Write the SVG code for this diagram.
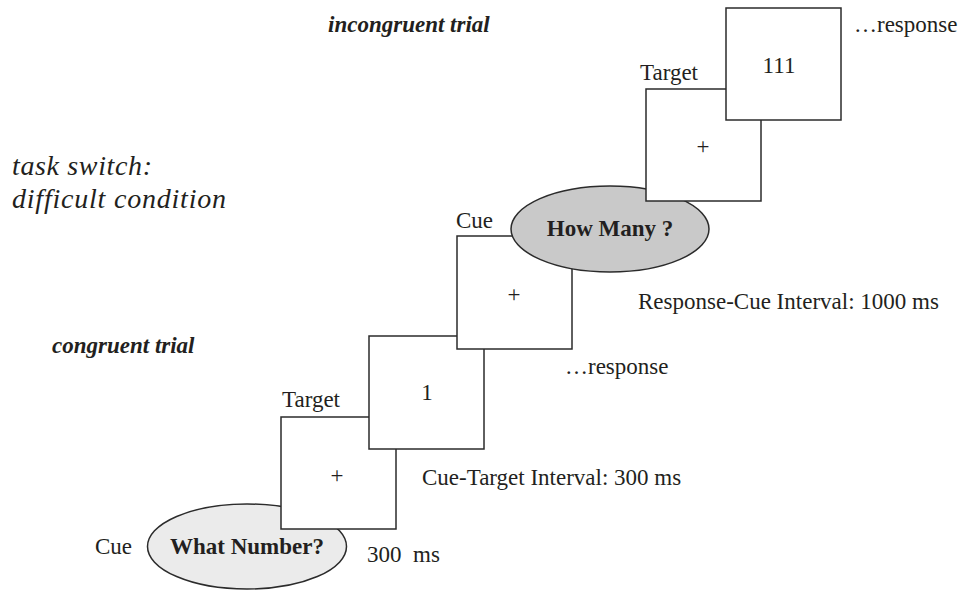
<svg xmlns="http://www.w3.org/2000/svg" width="965" height="591" viewBox="0 0 965 591">
<style>
.box{fill:#ffffff;stroke:#2b2b2b;stroke-width:1.5}
.ell{stroke:#2b2b2b;stroke-width:1.5}
.t{font-family:"Liberation Serif","Times New Roman",serif;font-size:23px;fill:#231f20}
.b{font-weight:bold}
.bi{font-weight:bold;font-style:italic}
.ti{font-family:"Liberation Serif","Times New Roman",serif;font-style:italic;font-size:28px;fill:#231f20}
.c{text-anchor:middle}
</style>
<rect width="965" height="591" fill="#ffffff"/>
<g id="headings">
<text class="t bi" x="328" y="32">incongruent trial</text>
<text class="t bi" x="52" y="353">congruent trial</text>
<text class="ti" x="12" y="175" textLength="140" lengthAdjust="spacing">task switch:</text>
<text class="ti" x="12" y="208" textLength="214" lengthAdjust="spacing">difficult condition</text>
</g>
<g id="cue1">
<ellipse class="ell" cx="247" cy="546.5" rx="99.5" ry="42.5" fill="#ebebeb"/>
<text class="t" x="95" y="554">Cue</text>
<text class="t b c" x="247" y="554">What Number?</text>
</g>
<g id="target1">
<rect class="box" x="281" y="417" width="115" height="112"/>
<text class="t" x="282" y="407">Target</text>
<text class="t c" x="337" y="483">+</text>
</g>
<g id="stim1">
<rect class="box" x="369" y="336" width="115" height="113"/>
<text class="t c" x="427" y="400">1</text>
</g>
<g id="cuebox2">
<rect class="box" x="457" y="236" width="115" height="113"/>
<text class="t" x="456" y="228">Cue</text>
<text class="t c" x="514" y="301.5">+</text>
</g>
<g id="cue2">
<ellipse class="ell" cx="610" cy="229" rx="99" ry="43" fill="#c9c9c9"/>
<text class="t b c" x="610" y="236">How Many ?</text>
</g>
<g id="target2">
<rect class="box" x="646" y="89" width="115" height="112"/>
<text class="t" x="640" y="80">Target</text>
<text class="t c" x="703" y="153.5">+</text>
</g>
<g id="stim2">
<rect class="box" x="726" y="8" width="115" height="112"/>
<text class="t c" x="779" y="72.5">111</text>
</g>
<g id="labels">
<text class="t" x="367" y="562" xml:space="preserve">300  ms</text>
<text class="t" x="422" y="485">Cue-Target Interval: 300 ms</text>
<text class="t" x="565" y="374">…response</text>
<text class="t" x="638" y="309">Response-Cue Interval: 1000 ms</text>
<text class="t" x="854" y="32">…response</text>
</g>
</svg>
